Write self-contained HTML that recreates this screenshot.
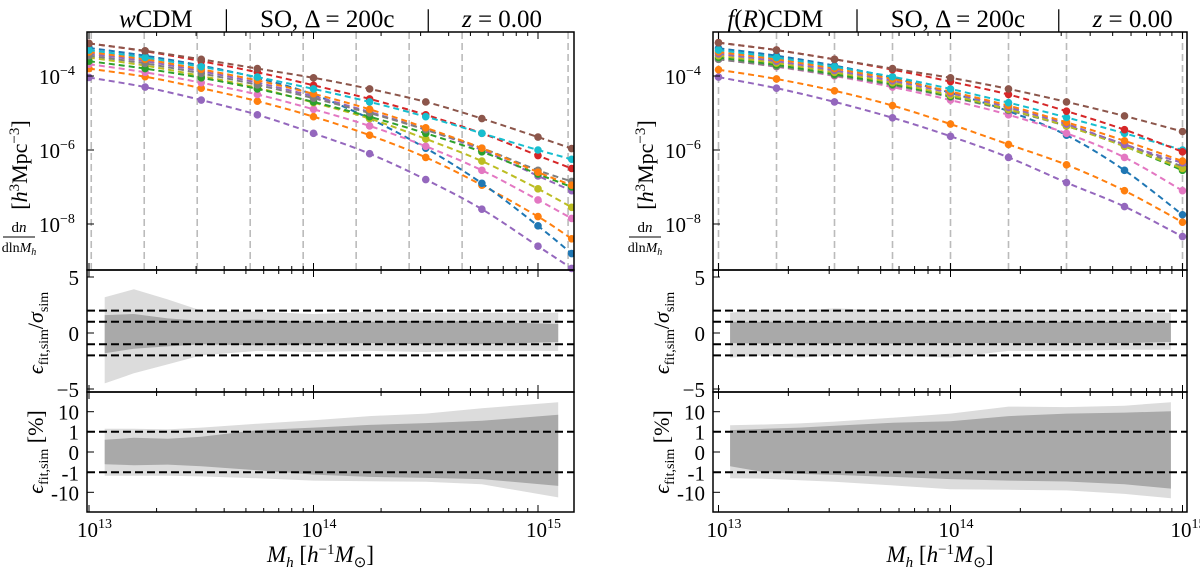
<!DOCTYPE html>
<html><head><meta charset="utf-8"><style>
html,body{margin:0;padding:0;background:#fff;width:1200px;height:574px;overflow:hidden}
svg text{font-family:"Liberation Serif",serif;fill:#000}
</style></head><body>
<svg id="fig" width="1200" height="574" viewBox="0 0 1200 574" xmlns="http://www.w3.org/2000/svg"></svg>
<script>
// ---------- DATA ----------
const gridW=[13.0,13.25,13.5,13.75,14.0,14.25,14.5,14.75,15.0,15.15];
const wPurple=[-4.04,-4.3,-4.65,-5.05,-5.55,-6.1,-6.8,-7.6,-8.6,-9.2];
const wOrange2=[-3.8,-4.02,-4.33,-4.68,-5.1,-5.6,-6.2,-6.95,-7.8,-8.4];
const wBlue=[-3.24,-3.45,-3.72,-4.05,-4.5,-5.15,-5.95,-6.9,-8.05,-8.8];
const wPink=[-3.68,-3.9,-4.18,-4.5,-4.9,-5.35,-5.9,-6.55,-7.35,-7.85];
const wOlive=[-3.5,-3.72,-4.0,-4.32,-4.72,-5.15,-5.7,-6.3,-7.05,-7.55];
const wPurple2=[-3.4,-3.6,-3.87,-4.18,-4.55,-4.97,-5.45,-6.0,-6.7,-7.1];
const wGreen=[-3.6,-3.8,-4.05,-4.35,-4.7,-5.1,-5.55,-6.05,-6.65,-7.0];
const wGrey=[-3.45,-3.66,-3.93,-4.24,-4.6,-5.0,-5.45,-5.95,-6.55,-6.85];
const wOrange1=[-3.35,-3.55,-3.82,-4.12,-4.48,-4.9,-5.4,-5.95,-6.6,-6.95];
const wRed=[-3.12,-3.33,-3.6,-3.9,-4.25,-4.62,-5.05,-5.55,-6.15,-6.5];
const wCyan=[-3.3,-3.5,-3.75,-4.03,-4.35,-4.7,-5.1,-5.55,-6.0,-6.25];
const wBrown=[-3.12,-3.32,-3.55,-3.8,-4.05,-4.35,-4.7,-5.15,-5.65,-5.96];

const gridF=[13.0,13.25,13.5,13.75,14.0,14.25,14.5,14.75,15.0];
const fPurple=[-4.03,-4.33,-4.7,-5.13,-5.63,-6.2,-6.88,-7.53,-8.34];
const fOrange2=[-3.83,-4.08,-4.4,-4.8,-5.3,-5.85,-6.4,-7.1,-7.95];
const fBlue=[-3.25,-3.45,-3.72,-4.05,-4.45,-4.95,-5.6,-6.55,-7.75];
const fPink=[-3.55,-3.75,-4.0,-4.3,-4.65,-5.05,-5.55,-6.2,-7.1];
const fGrey=[-3.55,-3.74,-3.98,-4.25,-4.57,-4.93,-5.35,-5.85,-6.45];
const fGreen=[-3.5,-3.7,-3.95,-4.22,-4.55,-4.9,-5.35,-5.9,-6.55];
const fOlive=[-3.45,-3.65,-3.9,-4.18,-4.52,-4.9,-5.35,-5.9,-6.5];
const fPurple2=[-3.4,-3.6,-3.85,-4.13,-4.46,-4.85,-5.3,-5.85,-6.35];
const fOrange1=[-3.35,-3.55,-3.8,-4.08,-4.42,-4.8,-5.25,-5.75,-6.3];
const fCyan=[-3.3,-3.5,-3.75,-4.02,-4.35,-4.72,-5.12,-5.55,-6.0];
const fRed=[-3.1,-3.3,-3.55,-3.83,-4.15,-4.5,-4.95,-5.45,-6.05];
const fBrown=[-3.1,-3.3,-3.55,-3.8,-4.05,-4.35,-4.7,-5.08,-5.5];

const bandGridW=[13.07,13.2,13.35,13.5,13.75,14.0,14.25,14.5,14.75,15.09];
const wSigLightUp=[3.2,3.9,3.0,2.0,1.9,1.7,1.9,1.8,1.8,1.8];
const wSigLightLo=[-4.5,-3.6,-2.8,-2.0,-1.6,-1.7,-1.6,-1.7,-1.6,-1.6];
const wSigDarkUp=[1.6,1.7,1.3,1.1,1.2,1.0,1.0,1.1,1.0,0.8];
const wSigDarkLo=[-1.8,-1.4,-1.2,-1.0,-1.1,-1.0,-0.9,-1.0,-1.0,-0.8];
const wPctLightUp=[1.4,1.4,1.3,1.6,2.5,3.7,6,8,15,30];
const wPctLightLo=[-1.5,-1.5,-1.5,-1.6,-2.0,-2.6,-2.8,-3.0,-4,-18];
const wPctDarkUp=[0.6,0.7,0.65,0.75,1.2,1.6,2.2,2.7,3.5,7];
const wPctDarkLo=[-0.6,-0.65,-0.62,-0.7,-0.9,-1.3,-1.7,-1.9,-2.2,-4.8];

const bandGridF=[13.05,13.2,13.35,13.5,13.75,14.0,14.25,14.5,14.75,14.95];
const fSigLightUp=[1.8,2.1,2.0,2.2,2.0,2.0,2.1,2.0,1.9,1.8];
const fSigLightLo=[-2.2,-2.0,-2.2,-2.0,-2.0,-2.2,-1.6,-1.6,-1.5,-1.5];
const fSigDarkUp=[1.0,1.0,1.0,1.0,1.0,1.0,1.0,1.0,1.0,0.9];
const fSigDarkLo=[-0.9,-0.95,-0.95,-0.95,-0.95,-0.9,-0.9,-0.9,-0.9,-0.8];
const fPctLightUp=[2.1,2.3,2.6,3.2,5,8,18,17,20,30];
const fPctLightLo=[-2,-2.1,-2.5,-3,-4.5,-7,-7.5,-8,-12,-20];
const fPctDarkUp=[1.2,1.4,1.6,2.0,2.8,3.3,6,8,9,10.5];
const fPctDarkLo=[-0.7,-1.0,-1.2,-1.35,-1.7,-2.2,-2.6,-2.9,-4,-6.5];

const binEdgesW=[13.01,13.246,13.482,13.718,13.954,14.19,14.426,14.662,15.134];
const binEdgesF=[13.0,13.25,13.5,13.75,14.0,14.25,14.5,15.0];
const xTickLabels=["13","14","15"];
const yTopTicks=[-4,-6,-8];
const ySigTicks=[5,0,-5];
const yPctTicks=[10,1,0,-1,-10];
const sigRefLines=[2,1,-1,-2];
const pctRefLines=[1,-1];

const C={blue:"#1f77b4",orange:"#ff7f0e",green:"#2ca02c",red:"#d62728",purple:"#9467bd",brown:"#8c564b",pink:"#e377c2",grey:"#7f7f7f",olive:"#bcbd22",cyan:"#17becf"};

// ---------- DRAW ----------
const NS="http://www.w3.org/2000/svg";
const svg=document.getElementById('fig');
function el(tag,attrs,parent){const e=document.createElementNS(NS,tag);for(const k in attrs)e.setAttribute(k,attrs[k]);(parent||svg).appendChild(e);return e;}
function symlog(v){const a=Math.abs(v);const s=v<0?-1:1;return a<=1?v*20.3:s*(20.3+20*Math.log10(a));}
function smooth(pts){
  let d='M'+pts[0][0].toFixed(1)+','+pts[0][1].toFixed(1);
  for(let i=0;i<pts.length-1;i++){
    const p0=pts[i-1]||pts[i],p1=pts[i],p2=pts[i+1],p3=pts[i+2]||p2;
    const c1=[p1[0]+(p2[0]-p0[0])/6,p1[1]+(p2[1]-p0[1])/6];
    const c2=[p2[0]-(p3[0]-p1[0])/6,p2[1]-(p3[1]-p1[1])/6];
    d+='C'+c1.map(v=>v.toFixed(1)).join(',')+' '+c2.map(v=>v.toFixed(1)).join(',')+' '+p2[0].toFixed(1)+','+p2[1].toFixed(1);
  }
  return d;
}

function panel(cfg){
  const g=el('g',{});
  
  
  const X=m=>cfg.x0+(m-13)*cfg.dec;
  const Ytop=v=>76-(v+4)*37;
  const Ysig=v=>333-v*11.2;
  const Ypct=v=>452-symlog(v);
  const cid='clip-'+cfg.id;
  const cp=el('clipPath',{id:cid},g);
  el('rect',{x:cfg.L,y:32,width:cfg.R-cfg.L,height:480},cp);
  const cg=el('g',{'clip-path':'url(#'+cid+')'},g);
  cfg.edges.forEach(e=>{
    const l=el('line',{x1:X(e),x2:X(e),y1:32,y2:270,stroke:'#bbb','stroke-width':1.6,'stroke-dasharray':'7,4'},cg);
    
    
  });
  cfg.series.forEach(s=>{
    const pts=cfg.grid.map((m,i)=>[X(m),Ytop(s.v[i])]);
    const p=el('path',{d:smooth(pts),fill:'none',stroke:s.c,'stroke-width':2,'stroke-dasharray':'6,4'},cg);
    
    
    pts.forEach(q=>{
      const d=el('circle',{cx:q[0],cy:q[1],r:3.8,fill:s.c},cg);
      
      
    });
  });
  function band(up,lo,Y,fill,nm){
    const a=cfg.bgrid.map((m,i)=>X(m).toFixed(1)+','+Y(up[i]).toFixed(1));
    const b=cfg.bgrid.map((m,i)=>X(m).toFixed(1)+','+Y(lo[i]).toFixed(1)).reverse();
    const p=el('polygon',{points:a.concat(b).join(' '),fill:fill},cg);
    
    
  }
  band(cfg.sLU,cfg.sLL,Ysig,'#dcdcdc','sigma-band-outer');
  band(cfg.sDU,cfg.sDL,Ysig,'#a9a9a9','sigma-band-inner');
  band(cfg.pLU,cfg.pLL,Ypct,'#dcdcdc','percent-band-outer');
  band(cfg.pDU,cfg.pDL,Ypct,'#a9a9a9','percent-band-inner');
  sigRefLines.forEach(v=>{const l=el('line',{x1:cfg.L,x2:cfg.R,y1:Ysig(v),y2:Ysig(v),stroke:'#000','stroke-width':2,'stroke-dasharray':'8,4'},cg);
    });
  pctRefLines.forEach(v=>{const l=el('line',{x1:cfg.L,x2:cfg.R,y1:Ypct(v),y2:Ypct(v),stroke:'#000','stroke-width':2,'stroke-dasharray':'8,4'},cg);
    });
  [[32,270],[270,392],[392,512]].forEach(r=>{
    const f=el('rect',{x:cfg.L,y:r[0],width:cfg.R-cfg.L,height:r[1]-r[0],fill:'none',stroke:'#000','stroke-width':1.5},g);
    
  });
  for(let d=12;d<=15;d++)for(let k=1;k<10;k++){
    const m=d+Math.log10(k);const x=X(m);if(x<cfg.L||x>cfg.R)continue;
    const len=k===1?7:4;
    [270,392,512].forEach(yb=>el('line',{x1:x,x2:x,y1:yb,y2:yb-len,stroke:'#000','stroke-width':1},g));
    [32,270,392].forEach(yt=>el('line',{x1:x,x2:x,y1:yt,y2:yt+len,stroke:'#000','stroke-width':1},g));
  }
  xTickLabels.forEach(t=>{
    const x=X(+t);
    const tx=el('text',{x:x-12,y:537,'font-size':21},g);
    
    tx.textContent='10';
    const sp=el('tspan',{dy:-9,'font-size':14},tx);sp.textContent=t;
  });
  yTopTicks.forEach(v=>{
    const y=Ytop(v);
    el('line',{x1:cfg.L,x2:cfg.L+7,y1:y,y2:y,stroke:'#000'},g);
    const tx=el('text',{x:cfg.L-48,y:y+8,'font-size':21},g);
    
    tx.textContent='10';const sp=el('tspan',{dy:-9,'font-size':14},tx);sp.textContent='\u2212'+(-v);
  });
  ySigTicks.forEach(v=>{
    const y=Ysig(v);
    el('line',{x1:cfg.L,x2:cfg.L+7,y1:y,y2:y,stroke:'#000'},g);
    const tx=el('text',{x:cfg.L-8,y:y+8,'font-size':21,'text-anchor':'end'},g);
    
    tx.textContent=v<0?'\u2212'+(-v):String(v);
  });
  yPctTicks.forEach(v=>{
    const y=Ypct(v);
    el('line',{x1:cfg.L,x2:cfg.L+7,y1:y,y2:y,stroke:'#000'},g);
    const tx=el('text',{x:cfg.L-8,y:y+8,'font-size':21,'text-anchor':'end'},g);
    
    tx.textContent=String(v);
  });
  const tt=el('text',{x:(cfg.L+cfg.R)/2,y:27,'font-size':25,'text-anchor':'middle'},g);
  
  tt.innerHTML=cfg.title+'  \u2003|\u2003  SO,  \u0394 = 200c  \u2003|\u2003  <tspan font-style="italic">z</tspan> = 0.00';
  const a=cfg.L-60;
  const yl=el('text',{transform:`translate(${a},165) rotate(-90)`,'font-size':22,'text-anchor':'middle'},g);
  
  yl.innerHTML='[<tspan font-style="italic">h</tspan><tspan dy="-8" font-size="15">3</tspan><tspan dy="8">Mpc</tspan><tspan dy="-8" font-size="15">\u22123</tspan><tspan dy="8">]</tspan>';
  const fr=el('text',{x:a-8,y:232,'font-size':15,'text-anchor':'middle'},g);
  
  fr.innerHTML='d<tspan font-style="italic">n</tspan>';
  el('line',{x1:a-24,x2:a+8,y1:237,y2:237,stroke:'#000','stroke-width':1},g);
  const fr2=el('text',{x:a-8,y:252,'font-size':14,'text-anchor':'middle'},g);
  fr2.innerHTML='dln<tspan font-style="italic">M</tspan><tspan font-size="10" dy="3" font-style="italic">h</tspan>';
  const sl=el('text',{transform:`translate(${cfg.L-44},333) rotate(-90)`,'font-size':22,'text-anchor':'middle'},g);
  
  sl.innerHTML='<tspan font-style="italic">\u03f5</tspan><tspan font-size="14" dy="5">fit,sim</tspan><tspan dy="-5">/</tspan><tspan font-style="italic">\u03c3</tspan><tspan font-size="14" dy="5">sim</tspan>';
  const pl=el('text',{transform:`translate(${cfg.L-44},452) rotate(-90)`,'font-size':22,'text-anchor':'middle'},g);
  
  pl.innerHTML='<tspan font-style="italic">\u03f5</tspan><tspan font-size="14" dy="5">fit,sim</tspan><tspan dy="-5">  [%]</tspan>';
  const xl=el('text',{x:(cfg.L+cfg.R)/2-10,y:562,'font-size':23,'text-anchor':'middle'},g);
  
  xl.innerHTML='<tspan font-style="italic">M</tspan><tspan font-size="15" dy="5" font-style="italic">h</tspan><tspan dy="-5">  [</tspan><tspan font-style="italic">h</tspan><tspan dy="-8" font-size="15">\u22121</tspan><tspan dy="8" font-style="italic">M</tspan><tspan font-size="15" dy="5">\u2299</tspan><tspan dy="-5">]</tspan>';
}

panel({id:'w',name:'wcdm-panel',title:'<tspan font-style="italic">w</tspan>CDM',L:87,R:574,x0:89,dec:224.5,grid:gridW,bgrid:bandGridW,edges:binEdgesW,
  series:[{n:'purple',c:C.purple,v:wPurple},{n:'orange-low',c:C.orange,v:wOrange2},{n:'blue',c:C.blue,v:wBlue},{n:'pink',c:C.pink,v:wPink},{n:'olive',c:C.olive,v:wOlive},{n:'purple-high',c:C.purple,v:wPurple2},{n:'green',c:C.green,v:wGreen},{n:'grey',c:C.grey,v:wGrey},{n:'orange-high',c:C.orange,v:wOrange1},{n:'red',c:C.red,v:wRed},{n:'cyan',c:C.cyan,v:wCyan},{n:'brown',c:C.brown,v:wBrown}],
  sLU:wSigLightUp,sLL:wSigLightLo,sDU:wSigDarkUp,sDL:wSigDarkLo,pLU:wPctLightUp,pLL:wPctLightLo,pDU:wPctDarkUp,pDL:wPctDarkLo});
panel({id:'f',name:'fr-cdm-panel',title:'<tspan font-style="italic">f</tspan>(<tspan font-style="italic">R</tspan>)CDM',L:713,R:1187,x0:718.5,dec:232,grid:gridF,bgrid:bandGridF,edges:binEdgesF,
  series:[{n:'purple',c:C.purple,v:fPurple},{n:'orange-low',c:C.orange,v:fOrange2},{n:'blue',c:C.blue,v:fBlue},{n:'pink',c:C.pink,v:fPink},{n:'grey',c:C.grey,v:fGrey},{n:'green',c:C.green,v:fGreen},{n:'olive',c:C.olive,v:fOlive},{n:'purple-high',c:C.purple,v:fPurple2},{n:'orange-high',c:C.orange,v:fOrange1},{n:'cyan',c:C.cyan,v:fCyan},{n:'red',c:C.red,v:fRed},{n:'brown',c:C.brown,v:fBrown}],
  sLU:fSigLightUp,sLL:fSigLightLo,sDU:fSigDarkUp,sDL:fSigDarkLo,pLU:fPctLightUp,pLL:fPctLightLo,pDU:fPctDarkUp,pDL:fPctDarkLo});
</script>
</body></html>
